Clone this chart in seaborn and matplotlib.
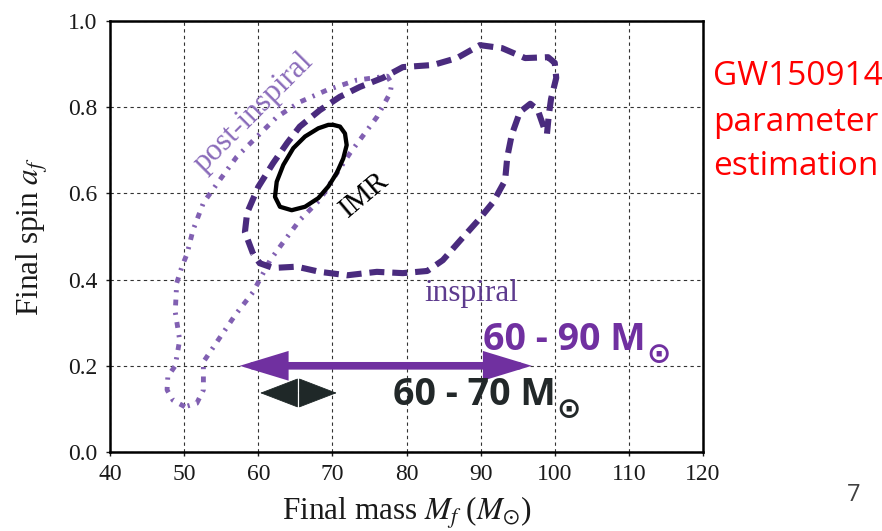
import numpy as np
import matplotlib
matplotlib.use("Agg")
import matplotlib.pyplot as plt
import seaborn as sns

# ---------------- data ----------------
x_ticks = [40, 50, 60, 70, 80, 90, 100, 110, 120]
y_ticks = [0.0, 0.2, 0.4, 0.6, 0.8, 1.0]
y_tick_labels = ["0.0", "0.2", "0.4", "0.6", "0.8", "1.0"]

# inspiral 90% contour (dashed)
insp_mass = [59.3, 58.2, 58.5, 60.0, 62.0, 63.9, 65.6, 68.3, 71.0, 73.7, 76.8, 79.5,
             83.6, 86.8, 89.9, 92.9, 96.0, 99.1, 100.0, 100.2, 99.5, 99.2, 98.95,
             98.55, 97.7, 96.7, 95.3, 94.2, 93.6, 93.3, 91.7, 89.7, 87.2, 84.9,
             82.8, 79.5, 76.0, 72.0, 68.3, 65.2, 62.0, 60.2]
insp_spin = [0.460, 0.510, 0.555, 0.615, 0.670, 0.717, 0.755, 0.793, 0.824, 0.847, 0.868, 0.893,
             0.898, 0.914, 0.944, 0.937, 0.914, 0.916, 0.903, 0.868, 0.819, 0.782, 0.738,
             0.752, 0.794, 0.808, 0.789, 0.736, 0.685, 0.630, 0.580, 0.538, 0.490, 0.445,
             0.420, 0.415, 0.418, 0.410, 0.418, 0.430, 0.427, 0.438]

# post-inspiral 90% contour (dash-dot)
post_mass = [50.1, 48.5, 47.7, 47.8, 48.8, 49.4, 48.8, 49.0, 49.7, 50.4, 51.2, 52.6,
             54.8, 57.1, 59.8, 62.5, 65.6, 69.3, 73.3, 77.4, 78.0, 77.8, 76.0, 74.7,
             72.4, 70.6, 68.3, 65.6, 63.3, 61.6, 59.3, 56.9, 54.8, 52.6, 52.6, 51.7]
post_spin = [0.105, 0.120, 0.144, 0.175, 0.200, 0.260, 0.325, 0.392, 0.430, 0.460, 0.515, 0.578,
             0.631, 0.685, 0.731, 0.777, 0.812, 0.840, 0.863, 0.872, 0.855, 0.833, 0.777, 0.747,
             0.694, 0.647, 0.585, 0.538, 0.485, 0.445, 0.371, 0.318, 0.265, 0.209, 0.144, 0.113]

# IMR 90% contour (solid)
imr_mass = [70.12, 71.03, 71.70, 71.93, 71.47, 70.58, 69.45, 68.10, 66.31, 64.51, 62.93,
            62.26, 62.49, 63.38, 64.73, 66.31, 68.10, 69.45]
imr_spin = [0.759, 0.755, 0.739, 0.712, 0.681, 0.647, 0.616, 0.589, 0.569, 0.561, 0.569,
            0.592, 0.627, 0.666, 0.705, 0.732, 0.751, 0.759]

# annotation arrows (mass ranges)
wide_range = [57.5, 96.9]
wide_level = 0.20
narrow_range = [60.25, 70.6]
narrow_level = 0.137

# ---------------- styling ----------------
sns.set_theme(style="white")
plt.rcParams["font.family"] = ["Liberation Serif", "DejaVu Serif"]
plt.rcParams["mathtext.fontset"] = "stix"

fig = plt.figure(figsize=(8.82, 5.31), dpi=100)
ax = fig.add_axes([110 / 882, 1 - 452 / 531, 593 / 882, 431 / 531])

def closed(a):
    return list(a) + [a[0]]

sns.lineplot(x=closed(post_mass), y=closed(post_spin), sort=False, estimator=None,
             ax=ax, color="#8160B2", lw=3.5, linestyle=(0, (1.2, 1.5, 0.45, 1.5)), zorder=3)
sns.lineplot(x=closed(insp_mass), y=closed(insp_spin), sort=False, estimator=None,
             ax=ax, color="#4A2B7E", lw=4.4, linestyle=(0, (2.45, 1.3)), zorder=4)
sns.lineplot(x=closed(imr_mass), y=closed(imr_spin), sort=False, estimator=None,
             ax=ax, color="black", lw=3.1, zorder=5)

ax.set_xlim(40, 120)
ax.set_ylim(0, 1.0)
ax.set_xticks(x_ticks)
ax.set_xticklabels([str(v) for v in x_ticks])
ax.set_yticks(y_ticks)
ax.set_yticklabels(y_tick_labels)
ax.grid(True, color="#333333", linestyle=(0, (3, 3)), lw=0.8)
ax.set_axisbelow(True)
for s in ax.spines.values():
    s.set_visible(True)
    s.set_color("black")
    s.set_linewidth(1.8)
ax.tick_params(axis="both", direction="out", length=3, width=1.0, labelsize=17,
               pad=6, colors="#1a1a1a", left=True, bottom=True)
ax.set_xlabel(r"Final mass $M_f$ ($M_{\odot}$)", fontsize=22.5, labelpad=7, color="#1a1a1a")
ax.set_ylabel(r"Final spin $a_f$", fontsize=22.5, labelpad=12, color="#1a1a1a")

# contour labels
ax.text(59.4, 0.789, "post-inspiral", rotation=45, rotation_mode="anchor",
        ha="center", va="center", fontsize=22.5, color="#8A6BBA", zorder=6)
ax.text(74.3, 0.596, "IMR", rotation=40, rotation_mode="anchor",
        ha="center", va="center", fontsize=21, color="black", zorder=6)
ax.text(82.4, 0.350, "inspiral", ha="left", va="baseline", fontsize=22.5,
        color="#5D3B8E", zorder=6)

# purple double arrow
ax.annotate("", xy=(wide_range[1], wide_level), xytext=(wide_range[0], wide_level),
            arrowprops=dict(arrowstyle="<|-|>,head_length=2.3,head_width=0.7",
                            mutation_scale=10, lw=5.5, color="#7030A0",
                            shrinkA=0, shrinkB=0, joinstyle="miter"), zorder=7)
# black diamond double arrow (two heads meeting in the middle)
mid = (narrow_range[0] + narrow_range[1]) / 2
for end in narrow_range:
    ax.annotate("", xy=(end, narrow_level), xytext=(mid, narrow_level),
                arrowprops=dict(arrowstyle="-|>,head_length=2.6,head_width=1.0",
                                mutation_scale=10, lw=0.6, color="#1F2828",
                                shrinkA=0.8, shrinkB=0), zorder=7)

# range labels with a lowered solar-mass sign
sans_bold = dict(family=["Open Sans", "DejaVu Sans"], weight="bold", fontsize=27)
for xx, yy, txt, col in [(90.3, 0.237, "60 - 90 M", "#7030A0"),
                         (78.2, 0.109, "60 - 70 M", "#222829")]:
    t = ax.text(xx, yy, txt, ha="left", va="baseline", color=col, zorder=8, **sans_bold)
    ax.annotate("\u2299", xy=(1, 0), xycoords=t, xytext=(0.5, 3.0),
                textcoords="offset points", ha="left", va="center",
                family=["DejaVu Sans"], weight="bold", fontsize=21, color=col, zorder=8)

# slide texts outside the plot
red = dict(family=["Open Sans", "DejaVu Sans"], fontsize=24, color="#FF0000",
           ha="left", va="baseline")
fig.text(713 / 882, 1 - 85 / 531, "GW150914", **red)
fig.text(713 / 882, 1 - 131 / 531, "parameter", **red)
fig.text(713 / 882, 1 - 175 / 531, "estimation", **red)
fig.text(854 / 882, 1 - 495 / 531, "7", family=["Open Sans", "DejaVu Sans"],
         fontsize=17, color="#404040", ha="center", va="center")

fig.savefig("out.png", dpi=100)
